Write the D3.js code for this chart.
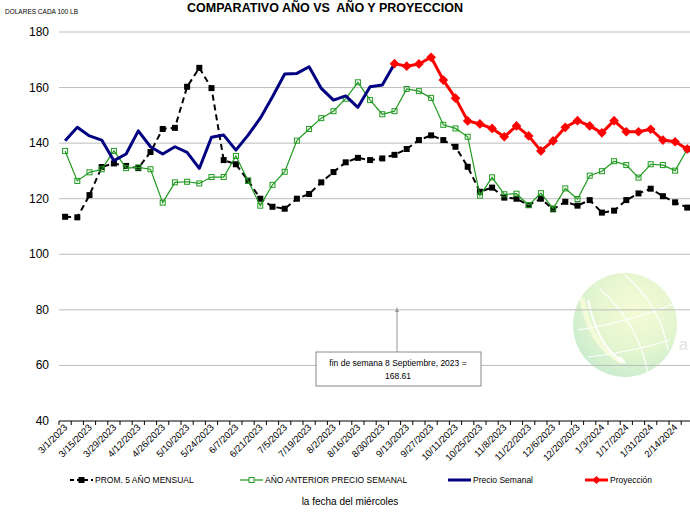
<!DOCTYPE html>
<html>
<head>
<meta charset="utf-8">
<script src="https://cdn.jsdelivr.net/npm/d3@7"></script>
<style>
  body { margin: 0; background: #fff; }
  svg { display: block; font-family: "Liberation Sans", Arial, sans-serif; }
</style>
</head>
<body>
<div id="chart"></div>
<script>
// weekly dates (Wednesdays)
const weeks = ["3/1/2023","3/8/2023","3/15/2023","3/22/2023","3/29/2023","4/5/2023","4/12/2023","4/19/2023",
  "4/26/2023","5/3/2023","5/10/2023","5/17/2023","5/24/2023","5/31/2023","6/7/2023","6/14/2023",
  "6/21/2023","6/28/2023","7/5/2023","7/12/2023","7/19/2023","7/26/2023","8/2/2023","8/9/2023",
  "8/16/2023","8/23/2023","8/30/2023","9/6/2023","9/13/2023","9/20/2023","9/27/2023","10/4/2023",
  "10/11/2023","10/18/2023","10/25/2023","11/1/2023","11/8/2023","11/15/2023","11/22/2023","11/29/2023",
  "12/6/2023","12/13/2023","12/20/2023","12/27/2023","1/3/2024","1/10/2024","1/17/2024","1/24/2024",
  "1/31/2024","2/7/2024","2/14/2024","2/21/2024"]

// PROM. 5 AÑO MENSUAL
const prom5 = [113.5,113.3,121.3,131.4,132.7,131.8,131.0,136.8,145.1,145.5,160.3,167.1,159.8,133.9,132.4,126.5,
  120.0,117.1,116.4,120.0,121.7,125.9,129.6,133.1,134.7,133.9,134.5,135.8,137.9,141.1,142.8,141.1,
  138.7,131.5,122.5,124.0,120.4,120.0,117.7,120.0,116.2,118.9,117.5,119.5,115.0,115.7,119.5,121.9,
  123.6,120.9,118.7,116.8]

// AÑO ANTERIOR PRECIO SEMANAL
const anterior = [137.2,126.4,129.5,130.6,137.2,131.0,131.3,130.6,118.6,125.9,126.1,125.5,127.8,127.8,135.4,126.5,
  117.5,125.0,129.7,140.9,145.1,149.0,151.5,156.0,161.9,155.5,150.4,151.5,159.5,158.7,156.3,146.6,
  145.3,142.3,121.1,127.7,121.6,121.8,117.7,122.0,116.5,123.7,119.9,128.3,129.9,133.5,132.1,127.6,
  132.4,132.1,130.1,137.8]

// Precio Semanal (3/1/2023 - 9/6/2023)
const semanal = [140.9,145.7,142.6,141.1,133.7,136.1,144.4,138.7,136.1,138.7,136.7,130.9,142.1,142.9,137.5,142.9,
  149.0,156.7,164.9,165.1,167.5,159.7,155.5,157.0,152.9,160.3,160.9,168.61]

// Proyección (9/6/2023 - 2/21/2024)
const proyeccion = [168.61,167.7,168.5,170.9,162.7,156.2,148.0,146.9,145.3,142.3,146.2,142.6,137.2,140.8,145.7,148.1,
  146.2,143.7,148.1,144.1,144.1,145.0,141.1,140.5,137.9]

const yTicks = [40,60,80,100,120,140,160,180]
const legendNames = ["PROM. 5 AÑO MENSUAL", "AÑO ANTERIOR PRECIO SEMANAL", "Precio Semanal", "Proyección"]

const width = 690, height = 512
const svg = d3.select("#chart").append("svg").attr("width", width).attr("height", height)

const x = d3.scaleBand().domain(d3.range(weeks.length)).range([59, 693.4]).padding(0)
const cx = i => x(i) + x.bandwidth() / 2
const y = d3.scaleLinear().domain([40, 180]).range([421, 32])

// watermark globe (faint)
const defs = svg.append("defs")
const grad = defs.append("radialGradient").attr("id", "globe").attr("cx", "60%").attr("cy", "35%").attr("r", "70%")
grad.append("stop").attr("offset", "0%").attr("stop-color", "#f6fcd6")
grad.append("stop").attr("offset", "60%").attr("stop-color", "#e2f5cf")
grad.append("stop").attr("offset", "100%").attr("stop-color", "#c9eccf")
const wm = svg.append("g")
wm.append("circle").attr("cx", 625).attr("cy", 325).attr("r", 52).attr("fill", "url(#globe)")
wm.append("path").attr("d", "M582,298 Q590,345 622,362").attr("fill", "none").attr("stroke", "#f4fbd8").attr("stroke-width", 5)
wm.append("path").attr("d", "M588,300 Q598,348 625,363").attr("fill", "none").attr("stroke", "#fff").attr("stroke-width", 2)
wm.append("path").attr("d", "M618,360 l7,3 l-5,-6").attr("fill", "none").attr("stroke", "#fff").attr("stroke-width", 2)
wm.append("path").attr("d", "M600,289 Q640,325 648,375").attr("fill", "none").attr("stroke", "#fff").attr("stroke-width", 1.2)
wm.append("path").attr("d", "M625,275 Q660,305 668,350").attr("fill", "none").attr("stroke", "#fff").attr("stroke-width", 1.2)
wm.append("path").attr("d", "M578,330 Q630,322 676,303").attr("fill", "none").attr("stroke", "#fff").attr("stroke-width", 1.2)
wm.append("path").attr("d", "M588,357 Q632,352 670,340").attr("fill", "none").attr("stroke", "#fff").attr("stroke-width", 1.2)
svg.append("text").attr("x", 679).attr("y", 350).attr("font-size", 16).attr("fill", "#e2e2e2").text("a")

// gridlines
svg.append("g").selectAll("line").data(yTicks.filter(d => d > 40)).join("line")
  .attr("x1", 59).attr("x2", width).attr("y1", d => y(d)).attr("y2", d => y(d))
  .attr("stroke", "#bdbdbd").attr("stroke-width", 1)

// y axis labels
svg.append("g").selectAll("text").data(yTicks).join("text")
  .attr("x", 49).attr("y", d => y(d) + 4).attr("text-anchor", "end")
  .attr("font-size", 12).attr("fill", "#000").text(d => d)

// x axis
const xAxis = svg.append("g").attr("transform", "translate(0,421)")
xAxis.append("line").attr("x1", 59).attr("x2", width).attr("stroke", "#000")
xAxis.selectAll(".tk").data(d3.range(weeks.length + 1)).join("line")
  .attr("x1", i => 59 + i * x.bandwidth()).attr("x2", i => 59 + i * x.bandwidth())
  .attr("y1", 0).attr("y2", 4).attr("stroke", "#000")
xAxis.selectAll("text").data(d3.range(0, weeks.length, 2)).join("text")
  .attr("transform", i => `translate(${cx(i) + 3},${7}) rotate(-45)`)
  .attr("text-anchor", "end").attr("font-size", 9.5).attr("fill", "#000")
  .text(i => weeks[i])

// lines
const line = d3.line().x(d => cx(d.i)).y(d => y(d.v))
const pts = (arr, off) => arr.map((v, k) => ({ i: k + off, v: v }))

const blackPts = pts(prom5, 0)
svg.append("path").attr("d", line(blackPts)).attr("fill", "none")
  .attr("stroke", "#000").attr("stroke-width", 2).attr("stroke-dasharray", "6,4")
svg.append("g").selectAll("rect").data(blackPts).join("rect")
  .attr("x", d => cx(d.i) - 3).attr("y", d => y(d.v) - 3).attr("width", 6).attr("height", 6).attr("fill", "#000")

const greenPts = pts(anterior, 0)
svg.append("path").attr("d", line(greenPts)).attr("fill", "none")
  .attr("stroke", "#1f9a1f").attr("stroke-width", 1.2)
svg.append("g").selectAll("rect").data(greenPts).join("rect")
  .attr("x", d => cx(d.i) - 2.5).attr("y", d => y(d.v) - 2.5).attr("width", 5).attr("height", 5)
  .attr("fill", "none").attr("stroke", "#1f9a1f").attr("stroke-width", 1)

const bluePts = pts(semanal, 0)
svg.append("path").attr("d", line(bluePts)).attr("fill", "none")
  .attr("stroke", "#000080").attr("stroke-width", 3).attr("stroke-linejoin", "round")

const redPts = pts(proyeccion, 27)
svg.append("path").attr("d", line(redPts)).attr("fill", "none")
  .attr("stroke", "#ff0000").attr("stroke-width", 3).attr("stroke-linejoin", "round")
svg.append("g").selectAll("path").data(redPts).join("path")
  .attr("d", d3.symbol(d3.symbolDiamond2, 60)())
  .attr("transform", d => `translate(${cx(d.i)},${y(d.v)})`).attr("fill", "#ff0000")

// annotation
svg.append("line").attr("x1", 397).attr("x2", 397).attr("y1", 352).attr("y2", 309)
  .attr("stroke", "#999").attr("stroke-width", 1)
svg.append("path").attr("d", "M395,312 L397,307 L399,312 Z").attr("fill", "#999")
svg.append("rect").attr("x", 316).attr("y", 352).attr("width", 165).attr("height", 34)
  .attr("fill", "#fff").attr("stroke", "#888")
svg.append("text").attr("x", 398).attr("y", 366).attr("text-anchor", "middle").attr("font-size", 8.5)
  .text("fin de semana 8 Septiembre, 2023 =")
svg.append("text").attr("x", 398).attr("y", 379).attr("text-anchor", "middle").attr("font-size", 8.5)
  .text("168.61")

// legend
const legendX = [70, 240, 448, 585]
const lg = svg.append("g").attr("font-size", 8.5)
legendNames.forEach((name, k) => {
  const g = lg.append("g").attr("transform", `translate(${legendX[k]},480)`)
  if (k === 0) {
    g.append("line").attr("x1", 0).attr("x2", 23).attr("stroke", "#000").attr("stroke-width", 2).attr("stroke-dasharray", "4,3")
    g.append("rect").attr("x", 8.5).attr("y", -3).attr("width", 6).attr("height", 6).attr("fill", "#000")
  } else if (k === 1) {
    g.append("line").attr("x1", 0).attr("x2", 23).attr("stroke", "#1f9a1f").attr("stroke-width", 1.2)
    g.append("rect").attr("x", 9).attr("y", -2.5).attr("width", 5).attr("height", 5).attr("fill", "#fff").attr("stroke", "#1f9a1f")
  } else if (k === 2) {
    g.append("line").attr("x1", 0).attr("x2", 23).attr("stroke", "#000080").attr("stroke-width", 3)
  } else {
    g.append("line").attr("x1", 0).attr("x2", 23).attr("stroke", "#ff0000").attr("stroke-width", 3)
    g.append("path").attr("d", d3.symbol(d3.symbolDiamond2, 40)()).attr("transform", "translate(11.5,0)").attr("fill", "#ff0000")
  }
  g.append("text").attr("x", 25).attr("y", 3).text(name)
})

// titles
svg.append("text").attr("x", 325).attr("y", 12).attr("text-anchor", "middle")
  .attr("font-size", 12.5).attr("font-weight", "bold").attr("xml:space", "preserve")
  .text("COMPARATIVO AÑO VS  AÑO Y PROYECCION")
svg.append("text").attr("x", 5).attr("y", 14).attr("font-size", 6.5).text("DOLARES CADA 100 LB")
svg.append("text").attr("x", 350).attr("y", 505).attr("text-anchor", "middle").attr("font-size", 10)
  .text("la fecha del miércoles")
</script>
</body>
</html>
